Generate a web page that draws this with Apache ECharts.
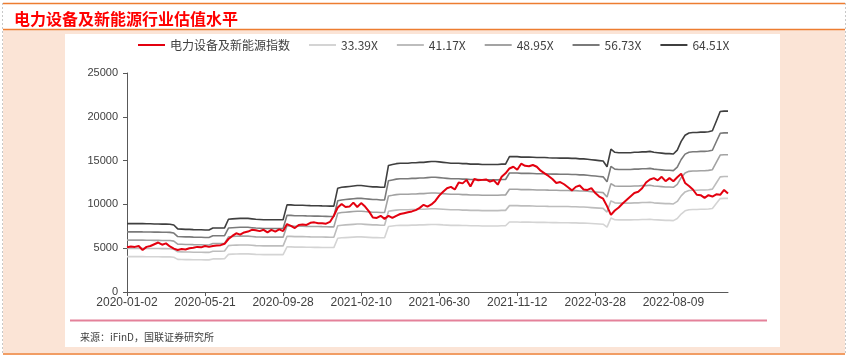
<!DOCTYPE html>
<html>
<head>
<meta charset="utf-8">
<script src="https://cdn.jsdelivr.net/npm/echarts@6/dist/echarts.min.js"></script>
<style>
html,body{margin:0;padding:0;background:#fff;}
#chart{width:848px;height:357px;}
</style>
</head>
<body>
<div id="chart"></div>
<script>
const chartTitle = '电力设备及新能源行业估值水平';
const sourceText = '来源：iFinD，国联证券研究所';
const tickLabels = ['2020-01-02','2020-05-21','2020-09-28','2021-02-10','2021-06-30','2021-11-12','2022-03-28','2022-08-09'];
const indexName = '电力设备及新能源指数';
const bandNames = ['33.39X','41.17X','48.95X','56.73X','64.51X'];
const multiples = [33.39, 41.17, 48.95, 56.73, 64.51];

// 电力设备及新能源指数 (~weekly samples)
const indexValues = [
  5100,5200,5150,5250,4800,5150,5250,5450,5650,5400,
  5550,5200,4950,4800,4900,4850,5000,5050,5150,5100,
  5250,5150,5250,5300,5350,5500,6050,6400,6700,6550,
  6800,6900,7100,7050,6950,7100,6800,7100,6900,7150,
  6950,7750,7550,7300,7650,7700,7650,7900,7950,7850,
  7850,7800,8000,8700,9650,10050,9700,9750,10200,9700,
  10150,9750,9200,8500,8450,8700,8350,8700,8450,8700,
  8900,9000,9100,9200,9350,9600,9950,9750,10000,10400,
  11000,11450,11850,12000,11700,12500,12400,12800,12050,12900,
  12750,12800,12850,12600,12750,12250,13150,13550,14100,14300,
  13950,14650,14400,14350,14500,14300,13850,13550,13250,12900,
  12450,12550,12300,11950,11600,12000,12150,11700,11650,11850,
  11300,10900,10650,9800,8800,9300,9650,10100,10500,10900,
  11300,11450,11850,12500,12850,13000,12750,13150,12650,13000,
  12650,13100,13500,12450,12100,11700,11100,11050,10750,11050,
  10900,11150,11100,11650,11250
];

// 64.51X band; lower bands scale with the PE multiple
const band6451 = [
  7800,7800,7810,7810,7800,7790,7790,7770,7770,7750,7750,7740,7650,
  7200,7180,7150,7150,7120,7100,7100,7080,7080,
  7300,7300,7300,7320,
  8300,8350,8380,8400,8400,8400,8350,8300,8280,8250,8250,8250,8250,8250,8250,
  9950,9950,9900,9900,9900,9880,9860,9850,9850,9830,9820,9800,9800,
  11850,11950,12000,12050,12100,12150,12150,12100,12050,12000,12000,11950,11950,
  14450,14550,14650,14700,14700,14700,14750,14750,14800,14800,14850,14900,14900,14850,14800,14750,14700,14700,
  14700,14650,14650,14600,14600,14600,14550,14550,14550,14550,14550,14600,14600,
  15450,15450,15450,15400,15400,15400,15380,15350,15350,15350,15320,15300,15300,15280,15280,15280,15250,15250,15200,15200,
  15150,15100,15050,15000,14950,14300,16300,15950,15900,15900,15900,15900,15950,15950,16000,16000,16050,15950,15900,15850,15800,15800,15750,16200,17200,17900,18150,18200,18200,18250,18250,18300,18400,19500,20600,20650,20650
];

const bandColors = ['#D4D4D4','#BDBDBD','#A3A3A3','#7A7A7A','#3F3F3F'];
const labelStep = 20;

const cats = indexValues.map((_, i) => String(i));
const isTick = (i) => i % labelStep === 0;

const series = [{
  name: indexName,
  type: 'line',
  data: indexValues,
  showSymbol: false,
  symbol: 'none',
  z: 5,
  lineStyle: { color: '#E3000F', width: 2 },
  itemStyle: { color: '#E3000F' }
}];
bandNames.forEach((nm, k) => {
  series.push({
    name: nm,
    type: 'line',
    data: band6451.map(v => Math.round(v * multiples[k] / multiples[4])),
    showSymbol: false,
    symbol: 'none',
    z: 2,
    lineStyle: { color: bandColors[k], width: 1.6 },
    itemStyle: { color: bandColors[k] }
  });
});

const chart = echarts.init(document.getElementById('chart'), null, { renderer: 'canvas' });
chart.setOption({
  animation: false,
  backgroundColor: '#ffffff',
  title: {
    text: chartTitle,
    left: 9, top: 6,
    textStyle: { color: '#FF0000', fontSize: 16, fontWeight: 'bold', fontFamily: 'Noto Sans CJK SC' }
  },
  legend: {
    data: [indexName].concat(bandNames),
    left: 133, top: 34,
    icon: 'rect', itemWidth: 27, itemHeight: 2, itemGap: 19,
    textStyle: { fontSize: 12, color: '#404040', fontFamily: 'Noto Sans CJK SC' }
  },
  grid: { left: 127, right: 120, top: 73, bottom: 65, containLabel: false },
  xAxis: {
    type: 'category',
    data: cats,
    boundaryGap: false,
    axisLine: { lineStyle: { color: '#595959', width: 1 } },
    axisTick: { show: true, interval: (i) => isTick(i), length: 4, lineStyle: { color: '#595959' } },
    axisLabel: {
      interval: (i) => isTick(i),
      formatter: (v, i) => tickLabels[i / labelStep] || '',
      fontSize: 12, color: '#404040', margin: 5, fontFamily: 'Liberation Sans'
    },
    splitLine: { show: false }
  },
  yAxis: {
    type: 'value',
    min: 0, max: 25000, interval: 5000,
    axisLine: { show: true, lineStyle: { color: '#595959', width: 1 } },
    axisTick: { show: true, length: 4, lineStyle: { color: '#595959' } },
    axisLabel: { fontSize: 11, color: '#404040', margin: 9, fontFamily: 'Liberation Sans', formatter: (v) => String(v) },
    splitLine: { show: false }
  },
  graphic: [
    { type: 'rect', z: -20, shape: { x: 3, y: 30, width: 842, height: 323 }, style: { fill: '#FBE4D6' }, silent: true },
    { type: 'rect', z: -19, shape: { x: 65, y: 34, width: 715, height: 313 }, style: { fill: '#FFFFFF' }, silent: true },
    { type: 'line', z: 50, shape: { x1: 3, y1: 3.5, x2: 845, y2: 3.5 }, style: { stroke: '#ED7D31', lineWidth: 1.5 }, silent: true },
    { type: 'line', z: 50, shape: { x1: 3, y1: 29.5, x2: 845, y2: 29.5 }, style: { stroke: '#ED7D31', lineWidth: 1.5 }, silent: true },
    { type: 'line', z: 50, shape: { x1: 3, y1: 354, x2: 845, y2: 354 }, style: { stroke: '#ED7D31', lineWidth: 1.5 }, silent: true },
    { type: 'line', z: 50, shape: { x1: 2.5, y1: 3, x2: 2.5, y2: 354 }, style: { stroke: '#C8C8C8', lineWidth: 1, lineDash: [2, 2] }, silent: true },
    { type: 'line', z: 50, shape: { x1: 845.5, y1: 3, x2: 845.5, y2: 354 }, style: { stroke: '#C8C8C8', lineWidth: 1, lineDash: [2, 2] }, silent: true },
    { type: 'line', z: 50, shape: { x1: 70, y1: 320.5, x2: 767, y2: 320.5 }, style: { stroke: '#E4819A', lineWidth: 2 }, silent: true },
    { type: 'text', z: 50, left: 80, top: 332, style: { text: sourceText, fill: '#404040', font: '10px "Noto Sans CJK SC"' }, silent: true }
  ],
  series: series
});
</script>
</body>
</html>
